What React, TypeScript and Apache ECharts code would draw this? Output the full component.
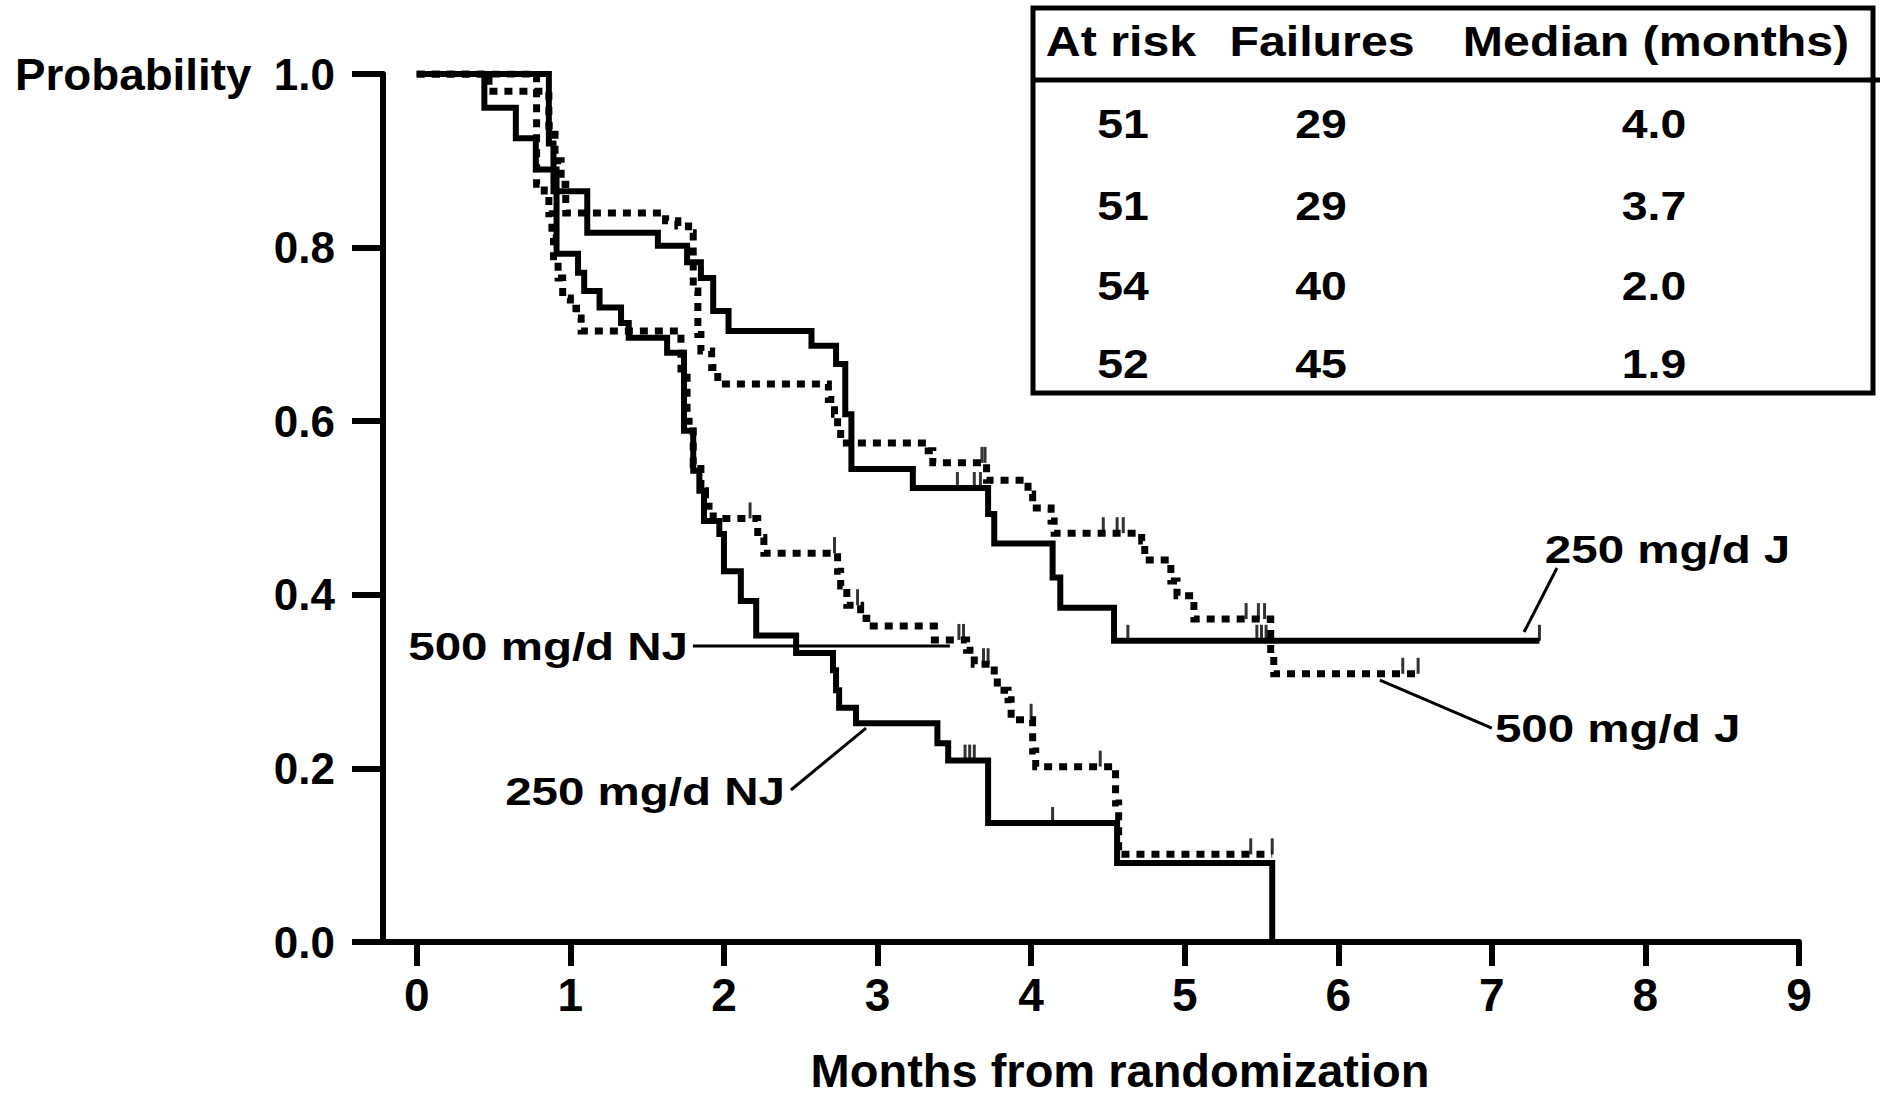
import React, { useEffect, useRef } from "react";
import * as echarts from "echarts";

// ---------- data ----------
const xTicks = [0, 1, 2, 3, 4, 5, 6, 7, 8, 9];

// 250 mg/d J (solid, upper)
const t250J = [0, 0.86, 0.89, 1.11, 1.57, 1.76, 1.85, 1.93, 2.03, 2.57, 2.73, 2.79, 2.83, 3.23, 3.72, 3.76, 4.14, 4.19, 4.54, 7.31];
const s250J = [1, 0.92, 0.865, 0.817, 0.802, 0.783, 0.765, 0.727, 0.704, 0.687, 0.666, 0.608, 0.545, 0.523, 0.493, 0.459, 0.42, 0.385, 0.347, 0.347];
const c250J = [3.52, 3.63, 3.67, 4.63, 5.47, 5.5, 5.53, 7.31];

// 500 mg/d J (dotted, upper)
const t500J = [0, 0.47, 0.86, 0.9, 0.94, 0.97, 1.62, 1.7, 1.77, 1.8, 1.83, 1.85, 1.92, 1.96, 2.68, 2.72, 2.74, 2.76, 3.33, 3.36, 3.71, 3.98, 4.01, 4.13, 4.15, 4.72, 4.74, 4.91, 4.95, 5.06, 5.56, 5.58, 6.52];
const s500J = [1, 0.98, 0.94, 0.9, 0.873, 0.84, 0.831, 0.825, 0.817, 0.75, 0.7, 0.681, 0.662, 0.643, 0.625, 0.608, 0.591, 0.575, 0.566, 0.552, 0.532, 0.516, 0.5, 0.485, 0.471, 0.462, 0.44, 0.416, 0.399, 0.372, 0.33, 0.309, 0.309];
const c500J = [3.68, 3.7, 4.47, 4.56, 4.6, 5.4, 5.48, 5.52, 6.42, 6.52];

// 500 mg/d NJ (dotted, lower)
const t500NJ = [0, 0.78, 0.83, 0.86, 0.88, 0.89, 0.92, 0.95, 1.0, 1.04, 1.07, 1.72, 1.76, 1.8, 1.85, 1.88, 1.93, 2.22, 2.26, 2.74, 2.76, 2.8, 2.89, 2.93, 3.37, 3.58, 3.63, 3.76, 3.78, 3.85, 3.87, 4.01, 4.03, 4.55, 4.57, 5.57];
const s500NJ = [1, 0.873, 0.859, 0.839, 0.811, 0.785, 0.765, 0.742, 0.73, 0.719, 0.704, 0.66, 0.6, 0.55, 0.52, 0.502, 0.488, 0.466, 0.448, 0.427, 0.41, 0.388, 0.373, 0.364, 0.348, 0.336, 0.32, 0.304, 0.29, 0.279, 0.256, 0.22, 0.202, 0.16, 0.101, 0.101];
const c500NJ = [2.17, 2.72, 2.87, 3.53, 3.56, 3.69, 3.72, 4.0, 4.45, 5.43, 5.57];

// 250 mg/d NJ (solid, lower)
const t250NJ = [0, 0.44, 0.645, 0.775, 0.91, 1.05, 1.09, 1.19, 1.33, 1.38, 1.63, 1.74, 1.8, 1.84, 1.87, 1.97, 2.0, 2.11, 2.21, 2.47, 2.71, 2.73, 2.75, 2.86, 3.39, 3.46, 3.72, 4.56, 5.57];
const s250NJ = [1, 0.961, 0.926, 0.89, 0.793, 0.771, 0.75, 0.731, 0.713, 0.696, 0.679, 0.589, 0.543, 0.52, 0.485, 0.47, 0.427, 0.393, 0.353, 0.333, 0.313, 0.29, 0.27, 0.252, 0.229, 0.209, 0.137, 0.091, 0];
const c250NJ = [3.57, 3.6, 3.63, 4.14];

// table
const tableHeaders = ["At risk", "Failures", "Median (months)"];
const atRisk = [51, 51, 54, 52];
const failures = [29, 29, 40, 45];
const medians = ["4.0", "3.7", "2.0", "1.9"];

const groupNames = ["250 mg/d J", "500 mg/d J", "500 mg/d NJ", "250 mg/d NJ"];

// ---------- helpers ----------
const FONT = "'Liberation Sans', Arial, Helvetica, sans-serif";

function pairs(t: number[], s: number[]) {
  return t.map((x, i) => [x, s[i]]);
}
function survAt(t: number[], s: number[], x: number) {
  let v = s[0];
  for (let i = 0; i < t.length; i++) {
    if (t[i] <= x + 1e-9) v = s[i];
  }
  return v;
}
function censorData(times: number[], t: number[], s: number[]) {
  return times.map((x) => [x, survAt(t, s, x)]);
}

function lineSeries(name: string, t: number[], s: number[], dotted: boolean) {
  return {
    name,
    type: "line",
    step: "end",
    showSymbol: false,
    symbol: "none",
    silent: true,
    data: pairs(t, s),
    lineStyle: dotted
      ? { color: "#000", width: 7, type: [8, 7], cap: "butt", join: "miter" }
      : { color: "#000", width: 6, type: "solid", cap: "butt", join: "miter" },
    z: dotted ? 2 : 3,
  };
}
function censorSeries(name: string, data: number[][]) {
  return {
    name: name + " censored",
    type: "scatter",
    silent: true,
    symbol: "rect",
    symbolSize: [3, 16],
    symbolOffset: [0, -8],
    itemStyle: { color: "#000" },
    data,
    z: 4,
  };
}

function txt(text: string, x: number, y: number, size: number, align: string, scaleX: number) {
  return {
    type: "text",
    x,
    y,
    scaleX,
    originX: 0,
    originY: 0,
    silent: true,
    style: {
      text,
      x: 0,
      y: 0,
      fill: "#000",
      font: `bold ${size}px ${FONT}`,
      textAlign: align,
      align,
      textVerticalAlign: "middle",
      verticalAlign: "middle",
    },
  };
}

export default function App() {
  const ref = useRef<HTMLDivElement>(null);

  useEffect(() => {
    const el = ref.current;
    if (!el) return;
    const chart = echarts.init(el, null, { renderer: "svg" });

    const axisText = { color: "#000", fontFamily: FONT, fontWeight: "bold" };

    chart.setOption({
      animation: false,
      backgroundColor: "#ffffff",
      grid: { left: 383, right: 81, top: 74, bottom: 155, containLabel: false, outerBoundsMode: "none" },
      xAxis: {
        type: "value",
        min: -0.22,
        max: 9,
        axisLine: { show: true, onZero: false, lineStyle: { color: "#000", width: 6 } },
        axisTick: { show: true, customValues: xTicks, length: 24, inside: false, lineStyle: { color: "#000", width: 6 } },
        axisLabel: { ...axisText, customValues: xTicks, margin: 30, fontSize: 46 },
        splitLine: { show: false },
        name: "Months from randomization",
        nameLocation: "middle",
        nameGap: 104,
        nameTextStyle: { ...axisText, fontSize: 47, lineHeight: 48, padding: [0, 0, 0, 58] },
      },
      yAxis: {
        type: "value",
        min: 0,
        max: 1,
        interval: 0.2,
        axisLine: { show: true, onZero: false, lineStyle: { color: "#000", width: 6 } },
        axisTick: { show: true, length: 31, inside: false, lineStyle: { color: "#000", width: 6 } },
        axisLabel: { ...axisText, margin: 48, fontSize: 44, formatter: (v: number) => v.toFixed(1) },
        splitLine: { show: false },
      },
      series: [
        lineSeries(groupNames[1], t500J, s500J, true),
        lineSeries(groupNames[2], t500NJ, s500NJ, true),
        lineSeries(groupNames[0], t250J, s250J, false),
        lineSeries(groupNames[3], t250NJ, s250NJ, false),
        censorSeries(groupNames[0], censorData(c250J, t250J, s250J)),
        censorSeries(groupNames[1], censorData(c500J, t500J, s500J)),
        censorSeries(groupNames[2], censorData(c500NJ, t500NJ, s500NJ)),
        censorSeries(groupNames[3], censorData(c250NJ, t250NJ, s250NJ)),
      ],
    });

    const P = (x: number, y: number) => chart.convertToPixel({ xAxisIndex: 0, yAxisIndex: 0 }, [x, y]) as number[];

    // annotation layout in data space: label anchor, leader start, leader end (on curve)
    const labelAnchor = [[7.345, 0.4516], [7.02, 0.246], [1.766, 0.3399], [2.397, 0.1734]];
    const labelAlign = ["left", "left", "right", "right"];
    const leaderFrom = [[7.424, 0.4309], [6.271, 0.3018], [1.798, 0.341], [2.436, 0.1751]];
    const leaderTo = [[7.21, 0.3571], [7.0, 0.2465], [3.471, 0.341], [2.925, 0.2465]];

    const graphics: any[] = [];
    groupNames.forEach((name, i) => {
      const a = P(labelAnchor[i][0], labelAnchor[i][1]);
      const f = P(leaderFrom[i][0], leaderFrom[i][1]);
      const t = P(leaderTo[i][0], leaderTo[i][1]);
      graphics.push({
        type: "line",
        silent: true,
        shape: { x1: f[0], y1: f[1], x2: t[0], y2: t[1] },
        style: { stroke: "#000", lineWidth: 3 },
      });
      graphics.push(txt(name, a[0], a[1], 38, labelAlign[i], 1.25));
    });

    // "Probability" label beside 1.0
    const top = P(0, 1);
    graphics.push(txt("Probability", 15, top[1] + 1, 44, "left", 1.04));

    // table
    graphics.push({
      type: "rect",
      silent: true,
      shape: { x: 1033, y: 8, width: 840, height: 385 },
      style: { fill: "none", stroke: "#000", lineWidth: 5 },
    });
    graphics.push({
      type: "line",
      silent: true,
      shape: { x1: 1033, y1: 80, x2: 1880, y2: 80 },
      style: { stroke: "#000", lineWidth: 5 },
    });
    const headX = [1121, 1322, 1656];
    const colX = [1123, 1321, 1654];
    const rowY = [124, 206, 286, 364];
    tableHeaders.forEach((h, i) => graphics.push(txt(h, headX[i], 42, 42, "center", 1.15)));
    atRisk.forEach((v, r) => {
      graphics.push(txt(String(v), colX[0], rowY[r], 40, "center", 1.16));
      graphics.push(txt(String(failures[r]), colX[1], rowY[r], 40, "center", 1.16));
      graphics.push(txt(medians[r], colX[2], rowY[r], 40, "center", 1.16));
    });

    chart.setOption({ graphic: graphics });

    return () => {
      chart.dispose();
    };
  }, []);

  return (
    <div
      ref={ref}
      style={{ position: "absolute", left: 0, top: 0, width: 1880, height: 1097, background: "#fff" }}
    />
  );
}
